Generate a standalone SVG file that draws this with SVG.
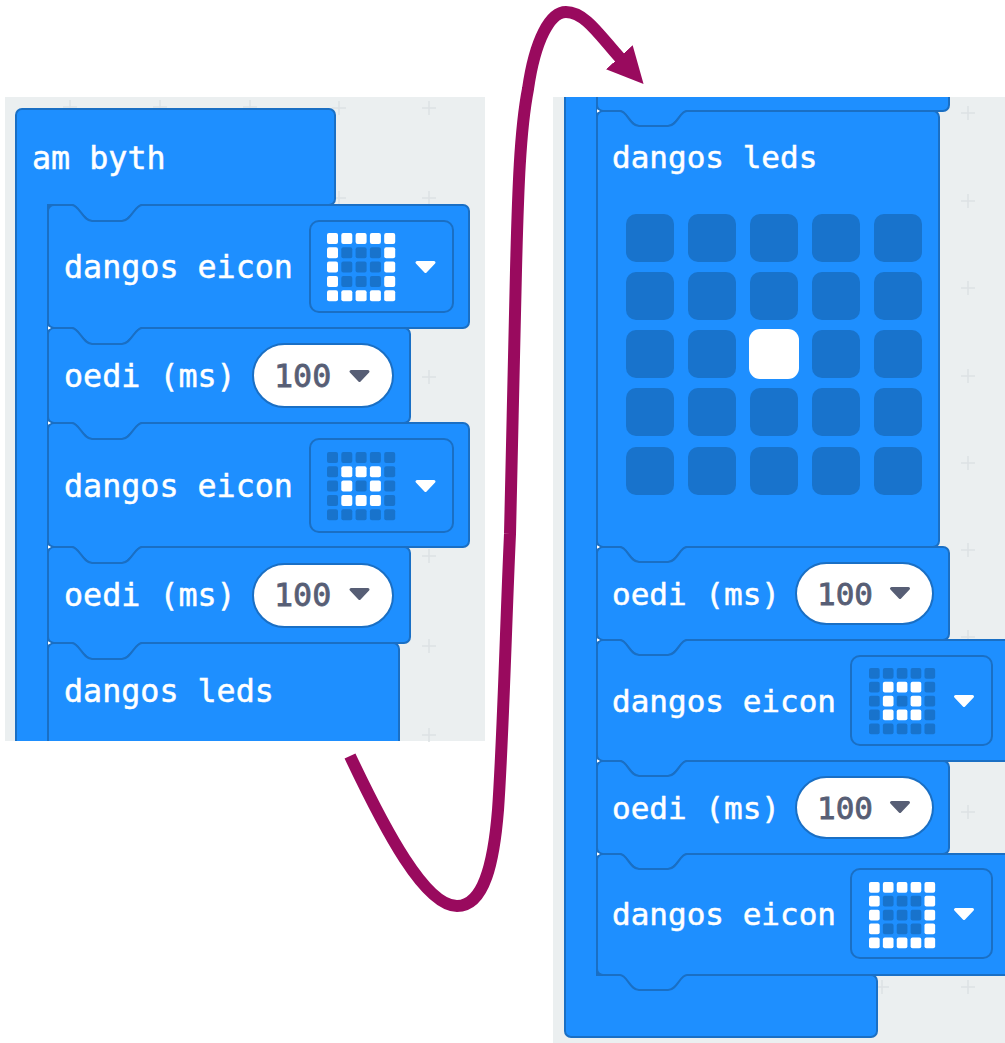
<svg xmlns="http://www.w3.org/2000/svg" xmlns:xlink="http://www.w3.org/1999/xlink" width="1005" height="1043" viewBox="0 0 1005 1043">
<style>
.panel{fill:#ebeff0}
.plus{stroke:#dde2e4;stroke-width:1.5;fill:none}
.blk{fill:#1e8fff;stroke:#1a6fc4;stroke-width:2}
.fld{fill:#1e8fff;stroke:#1a6fc4;stroke-width:2}
.pill{fill:#fff;stroke:#1a6fc4;stroke-width:2}
.t{font-family:"DejaVu Sans Mono","Liberation Mono",monospace;fill:#fff;stroke:#fff;stroke-width:.5}
.l{font-size:31.700px}
.r{font-size:31px}
.n{fill:#575e75;stroke:#575e75;stroke-width:.8}
.on{fill:#fff}
.off{fill:#1873cc}
.cw{fill:#fff;stroke:#fff;stroke-width:3;stroke-linejoin:round}
.cd{fill:#575e75;stroke:#575e75;stroke-width:3;stroke-linejoin:round}
.arrow{fill:none;stroke:#990a5e;stroke-width:12}
.tick{fill:#fff}
</style>
<defs>
<clipPath id="clipL"><rect x="5" y="97" width="480" height="644"/></clipPath>
<clipPath id="clipR"><rect x="553" y="97" width="452" height="946"/></clipPath>
<path id="plus" class="plus" d="M-7 0H7M0-7V7"/>
<polygon id="car" points="1.5,1.5 18.5,1.5 10,10.5"/>
<polygon id="tick" class="tick" points="0,-1.800 3,0 0,1.800"/>
<marker id="head" markerUnits="userSpaceOnUse" markerWidth="36" markerHeight="36" viewBox="0 0 36 36" refX="1" refY="18" orient="auto"><polygon points="0,0 36,18 0,36" fill="#990a5e"/></marker>
<g id="iconA">
<rect class="on" x="0" y="0" width="11" height="11" rx="2"/><rect class="on" x="14.3" y="0" width="11" height="11" rx="2"/><rect class="on" x="28.6" y="0" width="11" height="11" rx="2"/><rect class="on" x="42.9" y="0" width="11" height="11" rx="2"/><rect class="on" x="57.2" y="0" width="11" height="11" rx="2"/>
<rect class="on" x="0" y="14.3" width="11" height="11" rx="2"/><rect class="off" x="14.3" y="14.3" width="11" height="11" rx="2"/><rect class="off" x="28.6" y="14.3" width="11" height="11" rx="2"/><rect class="off" x="42.9" y="14.3" width="11" height="11" rx="2"/><rect class="on" x="57.2" y="14.3" width="11" height="11" rx="2"/>
<rect class="on" x="0" y="28.6" width="11" height="11" rx="2"/><rect class="off" x="14.3" y="28.6" width="11" height="11" rx="2"/><rect class="off" x="28.6" y="28.6" width="11" height="11" rx="2"/><rect class="off" x="42.9" y="28.6" width="11" height="11" rx="2"/><rect class="on" x="57.2" y="28.6" width="11" height="11" rx="2"/>
<rect class="on" x="0" y="42.9" width="11" height="11" rx="2"/><rect class="off" x="14.3" y="42.9" width="11" height="11" rx="2"/><rect class="off" x="28.6" y="42.9" width="11" height="11" rx="2"/><rect class="off" x="42.9" y="42.9" width="11" height="11" rx="2"/><rect class="on" x="57.2" y="42.9" width="11" height="11" rx="2"/>
<rect class="on" x="0" y="57.2" width="11" height="11" rx="2"/><rect class="on" x="14.3" y="57.2" width="11" height="11" rx="2"/><rect class="on" x="28.6" y="57.2" width="11" height="11" rx="2"/><rect class="on" x="42.9" y="57.2" width="11" height="11" rx="2"/><rect class="on" x="57.2" y="57.2" width="11" height="11" rx="2"/>
</g>
<g id="iconB">
<rect class="off" x="0" y="0" width="11" height="11" rx="2"/><rect class="off" x="14.3" y="0" width="11" height="11" rx="2"/><rect class="off" x="28.6" y="0" width="11" height="11" rx="2"/><rect class="off" x="42.9" y="0" width="11" height="11" rx="2"/><rect class="off" x="57.2" y="0" width="11" height="11" rx="2"/>
<rect class="off" x="0" y="14.3" width="11" height="11" rx="2"/><rect class="on" x="14.3" y="14.3" width="11" height="11" rx="2"/><rect class="on" x="28.6" y="14.3" width="11" height="11" rx="2"/><rect class="on" x="42.9" y="14.3" width="11" height="11" rx="2"/><rect class="off" x="57.2" y="14.3" width="11" height="11" rx="2"/>
<rect class="off" x="0" y="28.6" width="11" height="11" rx="2"/><rect class="on" x="14.3" y="28.6" width="11" height="11" rx="2"/><rect class="off" x="28.6" y="28.6" width="11" height="11" rx="2"/><rect class="on" x="42.9" y="28.6" width="11" height="11" rx="2"/><rect class="off" x="57.2" y="28.6" width="11" height="11" rx="2"/>
<rect class="off" x="0" y="42.9" width="11" height="11" rx="2"/><rect class="on" x="14.3" y="42.9" width="11" height="11" rx="2"/><rect class="on" x="28.6" y="42.9" width="11" height="11" rx="2"/><rect class="on" x="42.9" y="42.9" width="11" height="11" rx="2"/><rect class="off" x="57.2" y="42.9" width="11" height="11" rx="2"/>
<rect class="off" x="0" y="57.2" width="11" height="11" rx="2"/><rect class="off" x="14.3" y="57.2" width="11" height="11" rx="2"/><rect class="off" x="28.6" y="57.2" width="11" height="11" rx="2"/><rect class="off" x="42.9" y="57.2" width="11" height="11" rx="2"/><rect class="off" x="57.2" y="57.2" width="11" height="11" rx="2"/>
</g>
</defs>
<rect width="1005" height="1043" fill="#fff"/>

<g id="panel-left">
<rect class="panel" x="5" y="97" width="480" height="644"/>
<use xlink:href="#plus" href="#plus" x="70" y="107"/><use xlink:href="#plus" href="#plus" x="160" y="107"/><use xlink:href="#plus" href="#plus" x="250" y="107"/><use xlink:href="#plus" href="#plus" x="339" y="108"/><use xlink:href="#plus" href="#plus" x="429" y="108"/>
<use xlink:href="#plus" href="#plus" x="339" y="198"/><use xlink:href="#plus" href="#plus" x="429" y="198"/>
<use xlink:href="#plus" href="#plus" x="429" y="377"/><use xlink:href="#plus" href="#plus" x="429" y="556"/><use xlink:href="#plus" href="#plus" x="429" y="646"/><use xlink:href="#plus" href="#plus" x="429" y="735"/>
</g>
<g id="stack-left" clip-path="url(#clipL)">
<g id="hat">
<path class="blk" d="M16 115a6 6 0 0 1 6-6H329a6 6 0 0 1 6 6V199a6 6 0 0 1-6 6H142c-7 0-11 16-20 16h-30c-9 0-13-16-20-16H48V760H16z"/>
<text class="t l" x="32" y="169">am byth</text>
</g>
<g id="show-icon-1">
<path class="blk" d="M48 211a6 6 0 0 1 6-6h18c7 0 11 16 20 16h30c9 0 13-16 20-16H463a6 6 0 0 1 6 6V322a6 6 0 0 1-6 6H142c-7 0-11 16-20 16h-30c-9 0-13-16-20-16H54a6 6 0 0 1-6-6z"/>
<text class="t l" x="64" y="278">dangos eicon</text>
<rect class="fld" x="310" y="221" width="143" height="91" rx="9"/>
<use xlink:href="#iconA" href="#iconA" x="327" y="233"/>
<use xlink:href="#car" href="#car" class="cw" transform="translate(415.500 261)"/>
</g>
<g id="pause-1">
<path class="blk" d="M48 334a6 6 0 0 1 6-6h18c7 0 11 16 20 16h30c9 0 13-16 20-16H404a6 6 0 0 1 6 6V417a6 6 0 0 1-6 6H142c-7 0-11 16-20 16h-30c-9 0-13-16-20-16H54a6 6 0 0 1-6-6z"/>
<text class="t l" x="64" y="387">oedi (ms)</text>
<rect class="pill" x="253" y="344" width="140" height="63" rx="31.500"/>
<text class="t l n" x="274" y="387">100</text>
<use xlink:href="#car" href="#car" class="cd" transform="translate(349.500 370)"/>
</g>
<g id="show-icon-2">
<path class="blk" d="M48 429a6 6 0 0 1 6-6h18c7 0 11 16 20 16h30c9 0 13-16 20-16H463a6 6 0 0 1 6 6V541a6 6 0 0 1-6 6H142c-7 0-11 16-20 16h-30c-9 0-13-16-20-16H54a6 6 0 0 1-6-6z"/>
<text class="t l" x="64" y="497">dangos eicon</text>
<rect class="fld" x="310" y="439" width="143" height="93" rx="9"/>
<use xlink:href="#iconB" href="#iconB" x="327" y="452"/>
<use xlink:href="#car" href="#car" class="cw" transform="translate(415.500 480)"/>
</g>
<g id="pause-2">
<path class="blk" d="M48 553a6 6 0 0 1 6-6h18c7 0 11 16 20 16h30c9 0 13-16 20-16H404a6 6 0 0 1 6 6V637a6 6 0 0 1-6 6H142c-7 0-11 16-20 16h-30c-9 0-13-16-20-16H54a6 6 0 0 1-6-6z"/>
<text class="t l" x="64" y="606">oedi (ms)</text>
<rect class="pill" x="253" y="564" width="140" height="63" rx="31.500"/>
<text class="t l n" x="274" y="606">100</text>
<use xlink:href="#car" href="#car" class="cd" transform="translate(349.500 588)"/>
</g>
<g id="show-leds-1">
<path class="blk" d="M48 649a6 6 0 0 1 6-6h18c7 0 11 16 20 16h30c9 0 13-16 20-16H393a6 6 0 0 1 6 6V770H48z"/>
<text class="t l" x="64" y="702">dangos leds</text>
</g>
<use xlink:href="#tick" href="#tick" x="48" y="328"/><use xlink:href="#tick" href="#tick" x="48" y="423"/><use xlink:href="#tick" href="#tick" x="48" y="547"/><use xlink:href="#tick" href="#tick" x="48" y="643"/>
</g>

<g id="panel-right">
<rect class="panel" x="553" y="97" width="452" height="946"/>
<use xlink:href="#plus" href="#plus" x="968" y="113"/><use xlink:href="#plus" href="#plus" x="968" y="201"/><use xlink:href="#plus" href="#plus" x="968" y="288"/><use xlink:href="#plus" href="#plus" x="968" y="376"/><use xlink:href="#plus" href="#plus" x="968" y="463"/><use xlink:href="#plus" href="#plus" x="968" y="550"/><use xlink:href="#plus" href="#plus" x="968" y="637"/><use xlink:href="#plus" href="#plus" x="968" y="812"/><use xlink:href="#plus" href="#plus" x="882" y="987"/><use xlink:href="#plus" href="#plus" x="968" y="987"/>
</g>
<g id="stack-right" clip-path="url(#clipR)">
<g id="container">
<path class="blk" d="M565 80V1031a6 6 0 0 0 6 6H871a6 6 0 0 0 6-6V981a6 6 0 0 0-6-6H597V80z"/>
</g>
<g id="prev-block">
<path class="blk" d="M597 70H943a6 6 0 0 1 6 6V105a6 6 0 0 1-6 6H687c-7 0-10 15-19 15h-29c-9 0-12-15-19-15H603a6 6 0 0 1-6-6z"/>
</g>
<g id="show-leds-2">
<path class="blk" d="M597 117a6 6 0 0 1 6-6h17c7 0 10 15 19 15h29c9 0 12-15 19-15H933a6 6 0 0 1 6 6V541a6 6 0 0 1-6 6H687c-7 0-10 15-19 15h-29c-9 0-12-15-19-15H603a6 6 0 0 1-6-6z"/>
<text class="t r" x="612" y="168">dangos leds</text>
<g class="off">
<rect x="626" y="214" width="48" height="48" rx="10"/><rect x="688" y="214" width="48" height="48" rx="10"/><rect x="750" y="214" width="48" height="48" rx="10"/><rect x="812" y="214" width="48" height="48" rx="10"/><rect x="874" y="214" width="48" height="48" rx="10"/>
<rect x="626" y="272" width="48" height="48" rx="10"/><rect x="688" y="272" width="48" height="48" rx="10"/><rect x="750" y="272" width="48" height="48" rx="10"/><rect x="812" y="272" width="48" height="48" rx="10"/><rect x="874" y="272" width="48" height="48" rx="10"/>
<rect x="626" y="330" width="48" height="48" rx="10"/><rect x="688" y="330" width="48" height="48" rx="10"/><rect x="812" y="330" width="48" height="48" rx="10"/><rect x="874" y="330" width="48" height="48" rx="10"/>
<rect x="626" y="388" width="48" height="48" rx="10"/><rect x="688" y="388" width="48" height="48" rx="10"/><rect x="750" y="388" width="48" height="48" rx="10"/><rect x="812" y="388" width="48" height="48" rx="10"/><rect x="874" y="388" width="48" height="48" rx="10"/>
<rect x="626" y="447" width="48" height="48" rx="10"/><rect x="688" y="447" width="48" height="48" rx="10"/><rect x="750" y="447" width="48" height="48" rx="10"/><rect x="812" y="447" width="48" height="48" rx="10"/><rect x="874" y="447" width="48" height="48" rx="10"/>
</g>
<rect class="on" x="749" y="329" width="50" height="50" rx="11"/>
</g>
<g id="pause-3">
<path class="blk" d="M597 553a6 6 0 0 1 6-6h17c7 0 10 15 19 15h29c9 0 12-15 19-15H943a6 6 0 0 1 6 6V634a6 6 0 0 1-6 6H687c-7 0-10 15-19 15h-29c-9 0-12-15-19-15H603a6 6 0 0 1-6-6z"/>
<text class="t r" x="612" y="605">oedi (ms)</text>
<rect class="pill" x="796" y="563" width="137" height="61" rx="30.500"/>
<text class="t r n" x="817" y="605">100</text>
<use xlink:href="#car" href="#car" class="cd" transform="translate(890 587)"/>
</g>
<g id="show-icon-3">
<path class="blk" d="M597 646a6 6 0 0 1 6-6h17c7 0 10 15 19 15h29c9 0 12-15 19-15H1020V761H687c-7 0-10 15-19 15h-29c-9 0-12-15-19-15H603a6 6 0 0 1-6-6z"/>
<text class="t r" x="612" y="712">dangos eicon</text>
<rect class="fld" x="851" y="656" width="141" height="89" rx="9"/>
<use xlink:href="#iconB" href="#iconB" transform="translate(869 668) scale(.97)"/>
<use xlink:href="#car" href="#car" class="cw" transform="translate(954 695)"/>
</g>
<g id="pause-4">
<path class="blk" d="M597 767a6 6 0 0 1 6-6h17c7 0 10 15 19 15h29c9 0 12-15 19-15H943a6 6 0 0 1 6 6V848a6 6 0 0 1-6 6H687c-7 0-10 15-19 15h-29c-9 0-12-15-19-15H603a6 6 0 0 1-6-6z"/>
<text class="t r" x="612" y="819">oedi (ms)</text>
<rect class="pill" x="796" y="777" width="137" height="61" rx="30.500"/>
<text class="t r n" x="817" y="819">100</text>
<use xlink:href="#car" href="#car" class="cd" transform="translate(890 801)"/>
</g>
<g id="show-icon-4">
<path class="blk" d="M597 860a6 6 0 0 1 6-6h17c7 0 10 15 19 15h29c9 0 12-15 19-15H1020V975H687c-7 0-10 15-19 15h-29c-9 0-12-15-19-15H603a6 6 0 0 1-6-6z"/>
<text class="t r" x="612" y="925">dangos eicon</text>
<rect class="fld" x="851" y="869" width="141" height="89" rx="9"/>
<use xlink:href="#iconA" href="#iconA" transform="translate(869 882) scale(.97)"/>
<use xlink:href="#car" href="#car" class="cw" transform="translate(954 908)"/>
</g>
<use xlink:href="#tick" href="#tick" x="597" y="111"/><use xlink:href="#tick" href="#tick" x="597" y="547"/><use xlink:href="#tick" href="#tick" x="597" y="640"/><use xlink:href="#tick" href="#tick" x="597" y="761"/><use xlink:href="#tick" href="#tick" x="597" y="854"/>
</g>

<g id="connectors">
<path class="arrow" marker-end="url(#head)" d="M350 756C385 830 425 906 457 906C485 906 494 860 498 810C503 740 506 620 510 534C512 450 514 350 516 270C518 190 520 130 528 89C535 40 550 12 566 12C585 12 600 36 620 58"/>
</g>
</svg>
